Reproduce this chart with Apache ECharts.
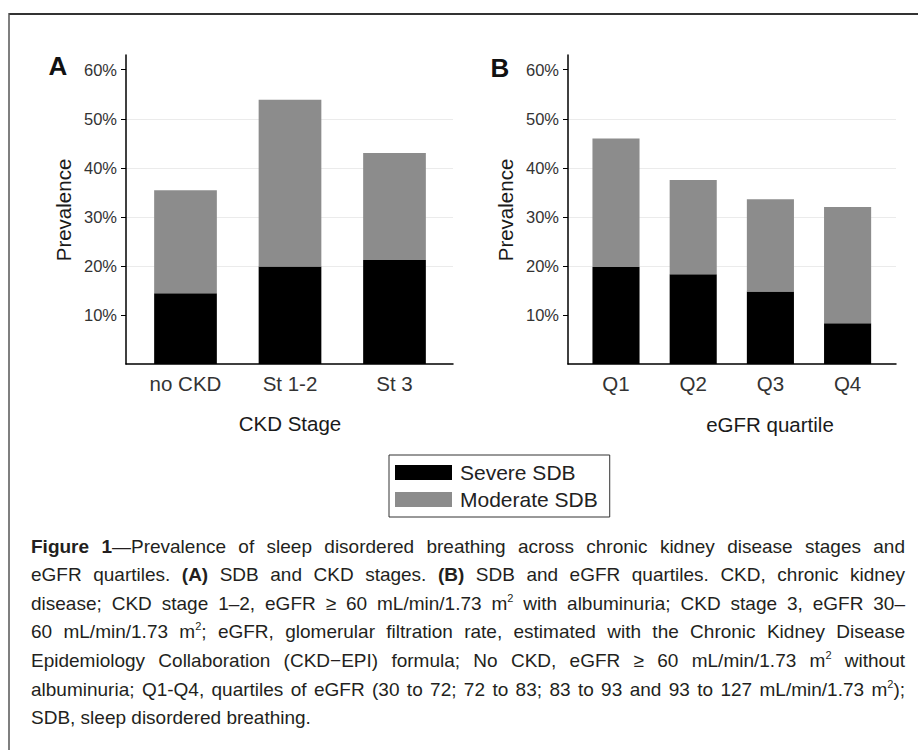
<!DOCTYPE html>
<html>
<head>
<meta charset="utf-8">
<script src="https://cdn.jsdelivr.net/npm/echarts@6.0.0/dist/echarts.min.js"></script>
<style>
html,body{margin:0;padding:0;background:#fff;}
#c{width:918px;height:750px;}
</style>
</head>
<body>
<div id="c"></div>
<script>
// ---------- data ----------
const categoriesA = ['no CKD', 'St 1-2', 'St 3'];
const severeA = [14.4, 19.9, 21.2];
const moderateA = [21.0, 34.0, 21.8];

const categoriesB = ['Q1', 'Q2', 'Q3', 'Q4'];
const severeB = [19.8, 18.3, 14.8, 8.3];
const moderateB = [26.2, 19.2, 18.8, 23.7];

const yTicks = [10, 20, 30, 40, 50, 60];
const seriesNames = ['Severe SDB', 'Moderate SDB'];
const axisTitlesA = ['CKD Stage', 'Prevalence'];
const axisTitlesB = ['eGFR quartile', 'Prevalence'];
const panelLabels = ['A', 'B'];

// caption: *bold*, ^ = superscript next char
const captionLines = [
  '*Figure 1*\u2014Prevalence of sleep disordered breathing across chronic kidney disease stages and',
  'eGFR quartiles. *(A)* SDB and CKD stages. *(B)* SDB and eGFR quartiles. CKD, chronic kidney',
  'disease; CKD stage 1\u20132, eGFR \u2265 60 mL/min/1.73 m^2 with albuminuria; CKD stage 3, eGFR 30\u2013',
  '60 mL/min/1.73 m^2; eGFR, glomerular filtration rate, estimated with the Chronic Kidney Disease',
  'Epidemiology Collaboration (CKD\u2212EPI) formula; No CKD, eGFR \u2265 60 mL/min/1.73 m^2 without',
  'albuminuria; Q1-Q4, quartiles of eGFR (30 to 72; 72 to 83; 83 to 93 and 93 to 127 mL/min/1.73 m^2);',
  'SDB, sleep disordered breathing.'
];

// ---------- styling ----------
const FONT = '"Liberation Sans", Arial, Helvetica, sans-serif';
const BLACK = '#000000';
const GREY = '#8c8c8c';
const TICK_COLOR = '#333333';
const GRID_COLOR = '#ebebeb';
const Y_MAX = 63;

const chart = echarts.init(document.getElementById('c'), null, {renderer: 'svg'});

function axesX(gi) {
  return {
    gridIndex: gi, type: 'value', min: 0, max: 1,
    axisLine: {show: true, onZero: false, lineStyle: {color: BLACK, width: 1.5}},
    axisTick: {show: false}, axisLabel: {show: false}, splitLine: {show: false}
  };
}
function barsX(gi, cats) {
  return {
    gridIndex: gi, type: 'category', data: cats,
    axisLine: {show: false}, axisTick: {show: false}, splitLine: {show: false},
    axisLabel: {fontSize: 20.5, color: TICK_COLOR, margin: 9, fontFamily: FONT}
  };
}
function axesY(gi) {
  return {
    gridIndex: gi, type: 'value', min: 0, max: Y_MAX, interval: 10,
    axisLine: {show: true, onZero: false, lineStyle: {color: BLACK, width: 1.5}},
    axisTick: {show: true, length: 5, customValues: yTicks, lineStyle: {color: BLACK, width: 1}},
    axisLabel: {
      customValues: yTicks,
      formatter: function (v) { return (v > 0 && v % 10 === 0 && v <= 60) ? v + '%' : ''; },
      fontSize: 16.5, color: TICK_COLOR, margin: 9, fontFamily: FONT
    },
    splitLine: {show: true, showMinLine: false, showMaxLine: false, lineStyle: {color: GRID_COLOR, width: 1}}
  };
}
function barsY(gi) {
  return {gridIndex: gi, type: 'value', min: 0, max: Y_MAX, show: false,
          axisLine: {show: false}, splitLine: {show: false}, axisLabel: {show: false}, axisTick: {show: false}};
}
function barSeries(name, data, xi, stack, color, width) {
  return {
    name: name, type: 'bar', stack: stack, xAxisIndex: xi, yAxisIndex: xi,
    data: data, barWidth: width, itemStyle: {color: color, borderWidth: 0},
    emphasis: {disabled: true}, silent: true
  };
}

// ---------- caption (justified, laid out by measuring words) ----------
const measureCtx = document.createElement('canvas').getContext('2d');
const CAP_SIZE = 19, SUP_SIZE = 11;
const CAP_LEFT = 31, CAP_RIGHT = 905, CAP_TOP = 546, CAP_STEP = 28.6;
function fontStr(bold, size) { return (bold ? 'bold ' : '') + size + 'px ' + FONT; }
function measure(t, bold, size) { measureCtx.font = fontStr(bold, size); return measureCtx.measureText(t).width; }
function parseLine(str) {
  const words = []; let cur = []; let bold = false; let i = 0;
  function push(t, b, sup) {
    const last = cur[cur.length - 1];
    if (last && last.b === b && last.sup === sup) last.t += t; else cur.push({t: t, b: b, sup: sup});
  }
  while (i < str.length) {
    const ch = str[i];
    if (ch === '*') { bold = !bold; i++; continue; }
    if (ch === '^') { push(str[i + 1], bold, true); i += 2; continue; }
    if (ch === ' ') { if (cur.length) words.push(cur); cur = []; i++; continue; }
    push(ch, bold, false); i++;
  }
  if (cur.length) words.push(cur);
  return words;
}
function segWidth(s) { return measure(s.t, s.b, s.sup ? SUP_SIZE : CAP_SIZE); }
const captionElements = [];
captionLines.forEach(function (line, li) {
  const words = parseLine(line);
  const widths = words.map(function (w) { return w.reduce(function (a, s) { return a + segWidth(s); }, 0); });
  const total = widths.reduce(function (a, b) { return a + b; }, 0);
  const justify = li < captionLines.length - 1;
  const gap = justify ? (CAP_RIGHT - CAP_LEFT - total) / (words.length - 1) : measure(' ', false, CAP_SIZE);
  const y = CAP_TOP + li * CAP_STEP;
  let x = CAP_LEFT;
  words.forEach(function (w, wi) {
    let sx = x;
    w.forEach(function (s) {
      const size = s.sup ? SUP_SIZE : CAP_SIZE;
      captionElements.push({
        type: 'text', x: sx, y: s.sup ? y - 5.5 : y, silent: true,
        style: {text: s.t, font: fontStr(s.b, size), fill: '#231f20',
                textAlign: 'left', textVerticalAlign: 'middle', align: 'left', verticalAlign: 'middle'}
      });
      sx += segWidth(s);
    });
    x += widths[wi] + gap;
  });
});

function label(text, x, y, size, bold, rot, color) {
  return {
    type: 'text', x: x, y: y, rotation: rot || 0, silent: true,
    style: {text: text, font: fontStr(bold, size), fill: color || '#1a1a1a',
            textAlign: 'center', textVerticalAlign: 'middle', align: 'center', verticalAlign: 'middle'}
  };
}

const graphics = [
  {type: 'line', silent: true, shape: {x1: 9, y1: 14, x2: 918, y2: 14}, style: {stroke: '#333', lineWidth: 2}},
  {type: 'line', silent: true, shape: {x1: 9, y1: 13, x2: 9, y2: 750}, style: {stroke: '#555', lineWidth: 1.5}},
  label(panelLabels[0], 58, 66, 26, true, 0, '#111'),
  label(panelLabels[1], 500, 68, 26, true, 0, '#111'),
  label(axisTitlesA[1], 63.5, 210, 20.5, false, Math.PI / 2),
  label(axisTitlesB[1], 505, 210, 20.5, false, Math.PI / 2),
  label(axisTitlesA[0], 290, 423, 20.5, false, 0),
  label(axisTitlesB[0], 770, 424, 20.5, false, 0)
].concat(captionElements);

const option = {
  backgroundColor: '#ffffff',
  animation: false,
  textStyle: {fontFamily: FONT},
  grid: [
    {left: 126, top: 55, width: 327, height: 309, outerBoundsMode: 'none'},
    {left: 133.25, top: 55, width: 313.5, height: 309, outerBoundsMode: 'none'},
    {left: 568, top: 55, width: 328, height: 309, outerBoundsMode: 'none'},
    {left: 577.4, top: 55, width: 308.8, height: 309, outerBoundsMode: 'none'}
  ],
  xAxis: [axesX(0), barsX(1, categoriesA), axesX(2), barsX(3, categoriesB)],
  yAxis: [axesY(0), barsY(1), axesY(2), barsY(3)],
  legend: {
    orient: 'vertical', left: 389, top: 455, data: seriesNames,
    itemWidth: 57, itemHeight: 15, itemGap: 6, padding: [7, 12, 7, 6],
    borderColor: '#333', borderWidth: 1, icon: 'rect', selectedMode: false,
    itemStyle: {borderWidth: 0},
    textStyle: {fontSize: 21, color: '#222', fontFamily: FONT, padding: [0, 0, 0, 3]}
  },
  series: [
    barSeries(seriesNames[0], severeA, 1, 'A', BLACK, '60%'),
    barSeries(seriesNames[1], moderateA, 1, 'A', GREY, '60%'),
    barSeries(seriesNames[0], severeB, 3, 'B', BLACK, '61%'),
    barSeries(seriesNames[1], moderateB, 3, 'B', GREY, '61%')
  ],
  graphic: graphics
};
chart.setOption(option);
</script>
</body>
</html>
